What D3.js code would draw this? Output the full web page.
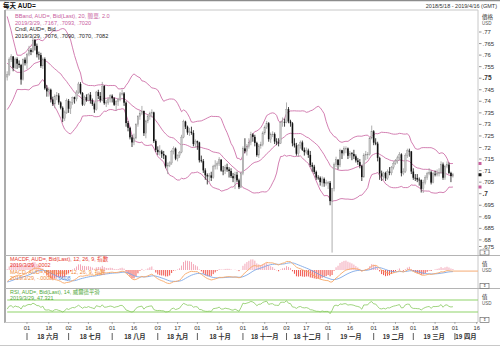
<!DOCTYPE html>
<html><head><meta charset="utf-8">
<script src="https://cdn.jsdelivr.net/npm/d3@7"></script>
<style>
body{margin:0;background:#fff}
svg{display:block;font-family:"Liberation Sans","Noto Sans CJK TC",sans-serif}
</style>
</head><body>
<svg id="c" width="500" height="347"></svg>
<script>
// ---------------- DATA ----------------
const title = "每天 AUD=";
const rangeText = "2018/5/18 - 2019/4/16 (GMT)";
const firstDay = "2018-05-18", lastAxisDay = "2019-04-16";

// closes before the first visible day (used only for the indicators' look-back)
const warmupCloses = [7730,7705,7675,7680,7680, 7668,7690,7712,7690,7674, 7700,7738,7757,7760,7753,
  7776,7772,7787,7770,7760, 7765,7755,7740,7720,7690, 7560,7500,7510,7520,7515,
  7506,7470,7455,7514,7545, 7541,7473,7515,7505];

// daily candles, 2018-05-18 .. 2019-03-29 (x 1e-4 USD)
const opens = [7505,7515,7580,7594,7545,7583,7563,7557,7494,7580,7565,7603,7622,7614,7665,7640,7603,7600,7553,7583,
7456,7443,7450,7408,7388,7422,7425,7395,7372,7326,7350,7402,7368,7396,7418,7410,7440,7475,7436,7386,
7418,7405,7428,7404,7388,7365,7440,7423,7405,7466,7392,7395,7410,7424,7413,7385,7400,7408,7432,7434,
7394,7306,7285,7244,7222,7241,7300,7334,7347,7358,7262,7315,7333,7346,7352,7228,7190,7180,7183,7172,
7165,7118,7123,7133,7183,7195,7152,7165,7180,7245,7312,7290,7265,7268,7263,7215,7227,7222,7145,7141,
7101,7080,7075,7079,7069,7118,7124,7130,7147,7100,7099,7115,7105,7098,7076,7067,7082,7058,7028,7087,
7196,7184,7203,7222,7256,7246,7220,7167,7207,7212,7263,7288,7305,7236,7255,7258,7226,7222,7218,7307,
7311,7309,7366,7313,7305,7218,7209,7173,7208,7222,7190,7180,7187,7168,7124,7117,7094,7070,7069,7050,
7064,7045,7047,7047,6968,7022,7126,7147,7124,7188,7175,7195,7196,7164,7175,7172,7162,7144,7137,7120,
7072,7167,7169,7171,7241,7270,7221,7217,7155,7088,7075,7090,7067,7096,7090,7114,7132,7142,7155,7170,
7089,7096,7166,7186,7183,7096,7069,7068,7061,7059,7021,7050,7071,7086,7093,7048,7086,7085,7088,7093,
7127,7069,7118,7126,7090,7076];
const highs = [7530,7590,7604,7596,7590,7590,7577,7562,7585,7590,7610,7640,7630,7676,7670,7650,7615,7610,7590,7590,
7470,7460,7455,7420,7430,7440,7435,7400,7378,7360,7412,7410,7400,7420,7420,7448,7484,7483,7440,7425,
7430,7435,7440,7412,7395,7445,7450,7440,7484,7470,7405,7415,7430,7430,7418,7405,7415,7440,7452,7440,
7400,7315,7290,7255,7260,7305,7340,7360,7380,7360,7320,7345,7355,7365,7355,7235,7205,7210,7190,7185,
7168,7135,7140,7190,7205,7200,7170,7185,7255,7320,7316,7295,7285,7290,7275,7235,7230,7225,7165,7150,
7110,7088,7090,7095,7125,7145,7140,7158,7150,7120,7125,7130,7115,7110,7090,7095,7095,7065,7095,7205,
7240,7215,7240,7268,7262,7255,7225,7215,7225,7270,7295,7315,7310,7265,7270,7265,7240,7240,7315,7330,
7325,7395,7375,7320,7310,7240,7220,7215,7230,7230,7200,7200,7195,7185,7135,7125,7100,7080,7075,7075,
7070,7060,7055,7055,7025,7135,7160,7150,7195,7190,7205,7205,7200,7185,7180,7190,7170,7155,7150,7125,
7175,7185,7180,7245,7295,7275,7240,7225,7160,7100,7095,7095,7105,7115,7120,7140,7150,7165,7180,7175,
7110,7175,7195,7195,7185,7110,7085,7085,7070,7062,7060,7080,7095,7110,7100,7095,7100,7105,7110,7140,
7135,7125,7140,7135,7095,7090];
const lows = [7490,7510,7570,7530,7540,7540,7545,7472,7490,7555,7540,7595,7600,7610,7620,7590,7580,7545,7540,7450,
7420,7420,7395,7380,7370,7405,7385,7365,7310,7315,7345,7350,7345,7385,7390,7400,7432,7430,7380,7380,
7398,7400,7390,7380,7350,7360,7410,7395,7400,7385,7375,7385,7395,7395,7380,7360,7380,7400,7425,7380,
7290,7270,7235,7202,7210,7235,7290,7320,7340,7250,7240,7305,7320,7330,7220,7180,7168,7165,7155,7150,
7110,7085,7115,7125,7170,7145,7140,7155,7175,7240,7280,7255,7250,7255,7205,7200,7190,7135,7135,7090,
7060,7040,7050,7055,7065,7105,7105,7120,7095,7080,7085,7095,7070,7068,7050,7020,7050,7020,7025,7080,
7175,7165,7195,7210,7225,7205,7160,7155,7195,7205,7255,7280,7225,7220,7245,7215,7210,7205,7215,7290,
7290,7305,7305,7290,7205,7200,7165,7160,7195,7185,7165,7170,7155,7115,7095,7085,7060,7060,7035,7030,
7030,7035,7020,6950,6745,7010,7115,7105,7115,7150,7165,7175,7150,7155,7145,7150,7135,7125,7110,7055,
7070,7145,7150,7165,7235,7210,7210,7140,7060,7055,7060,7055,7060,7080,7080,7105,7125,7130,7145,7075,
7080,7090,7155,7160,7085,7060,7055,7050,7035,7005,7003,7040,7060,7080,7040,7045,7075,7075,7075,7085,
7060,7060,7110,7085,7050,7070];
const closes = [7515,7580,7594,7545,7583,7563,7557,7494,7580,7565,7603,7622,7614,7665,7640,7603,7600,7553,7583,7456,
7443,7450,7408,7388,7422,7425,7395,7372,7326,7350,7402,7368,7396,7418,7410,7440,7475,7436,7386,7418,
7405,7428,7404,7388,7365,7440,7423,7405,7466,7392,7395,7410,7424,7413,7385,7400,7408,7432,7434,7394,
7306,7285,7244,7222,7241,7300,7334,7347,7358,7262,7315,7333,7346,7352,7228,7190,7180,7183,7172,7165,
7118,7123,7133,7183,7195,7152,7165,7180,7245,7312,7290,7265,7268,7263,7215,7227,7222,7145,7141,7101,
7080,7075,7079,7069,7118,7124,7130,7147,7100,7099,7115,7105,7098,7076,7067,7082,7058,7028,7087,7196,
7184,7203,7222,7256,7246,7220,7167,7207,7212,7263,7288,7305,7236,7255,7258,7226,7222,7218,7307,7311,
7309,7366,7313,7305,7218,7209,7173,7208,7222,7190,7180,7187,7168,7124,7117,7094,7070,7069,7050,7064,
7045,7047,7047,6968,7022,7126,7147,7124,7188,7175,7195,7196,7164,7175,7172,7162,7144,7137,7120,7072,
7167,7169,7171,7241,7270,7221,7217,7155,7088,7075,7090,7067,7096,7090,7114,7132,7142,7155,7170,7089,
7096,7166,7186,7183,7096,7069,7068,7061,7059,7021,7050,7071,7086,7093,7048,7086,7085,7088,7093,7127,
7069,7118,7126,7090,7076,7082];

const priceTicks = [0.77,0.765,0.76,0.755,0.75,0.745,0.74,0.735,0.73,0.725,0.72,0.715,0.71,0.705,0.7,0.695,0.69,0.685,0.68,0.675];
const priceTickLabels = [".77",".765",".76",".755",".75",".745",".74",".735",".73",".725",".72",".715",".71",".705",".7",".695",".69",".685",".68",".675"];
const boldPriceTicks = [".75",".7"];

const dayTickDates = ["2018-06-01","2018-06-18","2018-07-02","2018-07-16","2018-08-01","2018-08-16","2018-09-03","2018-09-17",
  "2018-10-01","2018-10-16","2018-11-01","2018-11-16","2018-12-03","2018-12-17","2019-01-01","2019-01-16","2019-02-01",
  "2019-02-18","2019-03-01","2019-03-18","2019-04-01","2019-04-16"];
const dayTickLabels = ["01","18","02","16","01","16","03","17","01","16","01","16","03","17","01","16","01","18","01","18","01","16"];
const monthStartDates = ["2018-06-01","2018-07-02","2018-08-01","2018-09-03","2018-10-01","2018-11-01","2018-12-03","2019-01-01","2019-02-01","2019-03-01","2019-04-01"];
const monthLabels = ["18 六月","18 七月","18 八月","18 九月","18 十月","18 十一月","18 十二月","19 一月","19 二月","19 三月","19 四月"];

const bbLegend = ["BBand, AUD=, Bid(Last), 20, 簡單, 2.0","2019/3/29, .7167, .7093, .7020"];
const cndlLegend = ["Cndl, AUD=, Bid","2019/3/29, .7076, .7090, .7070, .7082"];
const macdfLegend = ["MACDF, AUD=, Bid(Last), 12, 26, 9, 指數","2019/3/29, .0002"];
const macdLegend = ["MACD, AUD=, Bid(Last), 12, 26, 9, 指數","2019/3/29, -.0008, ","-.0008"];
const rsiLegend = ["RSI, AUD=, Bid(Last), 14, 威爾德平滑","2019/3/29, 47.321"];
const rsiBounds = [70, 30];

// ---------------- INDICATORS ----------------
const W = warmupCloses.length;
const all = warmupCloses.concat(closes).map(v => v / 1e4);
const N = closes.length;
const bb = [];
for (let i = 0; i < N; i++) {
  const win = all.slice(W + i - 19, W + i + 1);
  const m = d3.mean(win);
  const sd = Math.sqrt(d3.mean(win, v => (v - m) * (v - m)));
  bb.push({i, mid: m, up: m + 2 * sd, lo: m - 2 * sd});
}
function ema(arr, n) { const k = 2 / (n + 1); const out = [arr[0]]; for (let i = 1; i < arr.length; i++) out.push(arr[i] * k + out[i - 1] * (1 - k)); return out; }
const e12 = ema(all, 12), e26 = ema(all, 26);
const macdAll = all.map((v, i) => e12[i] - e26[i]);
const sigAll = ema(macdAll, 9);
const macd = d3.range(N).map(i => ({i, m: macdAll[W + i], s: sigAll[W + i], h: macdAll[W + i] - sigAll[W + i]}));
// RSI Wilder 14
const rsiAll = new Array(all.length).fill(null);
{
  let g = 0, l = 0;
  for (let i = 1; i <= 14; i++) { const d = all[i] - all[i - 1]; if (d > 0) g += d; else l -= d; }
  g /= 14; l /= 14; rsiAll[14] = 100 - 100 / (1 + g / l);
  for (let i = 15; i < all.length; i++) {
    const d = all[i] - all[i - 1];
    g = (g * 13 + Math.max(d, 0)) / 14; l = (l * 13 + Math.max(-d, 0)) / 14;
    rsiAll[i] = 100 - 100 / (1 + g / l);
  }
}
const rsi = d3.range(N).map(i => ({i, r: rsiAll[W + i]}));

// ---------------- LAYOUT ----------------
const svg = d3.select("#c");
const fL = 5, fR = 478, fT = 10;
const mainBottom = 255, macdTop = 256, macdBottom = 288, rsiTop = 289, rsiBottom = 322;

const parse = d3.timeParse("%Y-%m-%d");
const days = d3.timeDay.range(parse(firstDay), d3.timeDay.offset(parse(lastAxisDay), 1)).filter(d => d.getDay() % 6 !== 0);
const fmt = d3.timeFormat("%Y-%m-%d");
const dayIndex = new Map(days.map((d, i) => [fmt(d), i]));
const x = d3.scaleLinear().domain([0, days.length - 1]).range([7.2, 476.7]);
const y = d3.scaleLinear().domain([0.77, 0.675]).range([32, 251.45]);
const yM = d3.scaleLinear().domain([-0.0075, 0.0075]).range([286.5, 253.5]);
const yH = d3.scaleLinear().domain([-0.004, 0.004]).range([288, 252]);
const yR = d3.scaleLinear().domain([0, 100]).range([321, 291]);

// frame
svg.append("rect").attr("x", 0).attr("y", 0).attr("width", 500).attr("height", 347).attr("fill", "#fff");
svg.append("line").attr("x1", 0).attr("x2", 500).attr("y1", 0.5).attr("y2", 0.5).attr("stroke", "#8c8c8c").attr("stroke-width", 1.5);
svg.append("text").attr("x", 3).attr("y", 7.5).attr("font-size", 6.5).attr("font-weight", "bold").attr("fill", "#111").text(title);
svg.append("text").attr("x", 497).attr("y", 7.5).attr("font-size", 5.5).attr("text-anchor", "end").attr("fill", "#333").text(rangeText);
svg.append("path").attr("d", `M${fL},${rsiBottom}V${fT}H${fR}V${rsiBottom}`).attr("fill", "none").attr("stroke", "#c8c8c8");
svg.append("line").attr("x1", fL).attr("x2", fL).attr("y1", fT).attr("y2", rsiBottom + 1).attr("stroke", "#9a9a9a").attr("stroke-width", 1.5);
[mainBottom + 0.5, macdBottom + 0.5].forEach(v => svg.append("line").attr("x1", fL).attr("x2", 500).attr("y1", v).attr("y2", v).attr("stroke", "#b4b4b4"));
svg.append("line").attr("x1", 0).attr("x2", 500).attr("y1", 345.5).attr("y2", 345.5).attr("stroke", "#c8c8c8");
svg.append("line").attr("x1", fL).attr("x2", fR).attr("y1", rsiBottom + 0.5).attr("y2", rsiBottom + 0.5).attr("stroke", "#c8c8c8");

// price axis
const pa = svg.append("g").attr("font-size", 6).attr("fill", "#333");
priceTicks.forEach((v, k) => {
  const ty = Math.min(y(v), 246.5);
  pa.append("line").attr("x1", 479).attr("x2", 481.5).attr("y1", ty).attr("y2", ty).attr("stroke", "#666").attr("stroke-width", 0.7);
  pa.append("text").attr("x", 482.5).attr("y", ty + 2).attr("font-weight", boldPriceTicks.includes(priceTickLabels[k]) ? "bold" : "normal")
    .attr("font-size", boldPriceTicks.includes(priceTickLabels[k]) ? 6.5 : 6).text(priceTickLabels[k]);
});
svg.append("text").attr("x", 482).attr("y", 19).attr("font-size", 5.5).attr("fill", "#333").text("價格");
svg.append("text").attr("x", 482).attr("y", 25).attr("font-size", 4.5).attr("fill", "#555").text("USD");
[[266, 272], [299, 305]].forEach(([a, b]) => {
  svg.append("text").attr("x", 482).attr("y", a).attr("font-size", 5.5).attr("fill", "#333").text("值");
  svg.append("text").attr("x", 482).attr("y", b).attr("font-size", 4.5).attr("fill", "#555").text("USD");
});
[252.5, 286, 320].forEach(v => {
  svg.append("rect").attr("x", 480).attr("y", v - 2.5).attr("width", 9).attr("height", 5).attr("fill", "#fff").attr("stroke", "#555").attr("stroke-width", 0.6);
  svg.append("text").attr("x", 484.5).attr("y", v + 1.4).attr("text-anchor", "middle").attr("font-size", 3.6).attr("fill", "#333").text("⇕");
});

// Bollinger bands
const bbColor = "#c8609e";
["up", "mid", "lo"].forEach(k => {
  svg.append("path").datum(bb).attr("fill", "none").attr("stroke", bbColor).attr("stroke-width", 0.8)
    .attr("d", d3.line().x(d => x(d.i)).y(d => y(d[k])));
});

// candles
const cd = d3.range(N).map(i => ({i, o: opens[i] / 1e4, h: highs[i] / 1e4, l: lows[i] / 1e4, c: closes[i] / 1e4}));
const cg = svg.append("g");
cg.selectAll("line").data(cd).join("line")
  .attr("x1", d => x(d.i)).attr("x2", d => x(d.i)).attr("y1", d => y(d.h)).attr("y2", d => y(d.l))
  .attr("stroke", d => d.c >= d.o ? "#9a9a9a" : "#111").attr("stroke-width", 0.8);
cg.selectAll("rect").data(cd).join("rect")
  .attr("x", d => x(d.i) - 0.8).attr("width", 1.6)
  .attr("y", d => y(Math.max(d.o, d.c))).attr("height", d => Math.max(0.8, Math.abs(y(d.o) - y(d.c))))
  .attr("fill", d => d.c >= d.o ? "#c4c4c4" : "#111").attr("stroke", d => d.c >= d.o ? "#8a8a8a" : "none").attr("stroke-width", 0.3);

// last value markers
const last = bb[N - 1];
[[last.up, bbColor], [last.lo, bbColor], [cd[N - 1].c, "#111"]].forEach(([v, c]) => {
  svg.append("rect").attr("x", 478.5).attr("y", y(v) - 1.5).attr("width", 3).attr("height", 3).attr("fill", c);
});

// legends (main)
const lg = svg.append("g").attr("font-size", 5.6);
lg.append("text").attr("x", 15).attr("y", 18).attr("fill", bbColor).text(bbLegend[0]);
lg.append("text").attr("x", 15).attr("y", 24.5).attr("fill", bbColor).text(bbLegend[1]);
lg.append("text").attr("x", 15).attr("y", 31).attr("fill", "#222").text(cndlLegend[0]);
lg.append("text").attr("x", 15).attr("y", 37.5).attr("fill", "#222").text(cndlLegend[1]);

// MACD panel
const hg = svg.append("g");
hg.selectAll("rect").data(macd).join("rect")
  .attr("x", d => x(d.i) - 0.5).attr("width", 1)
  .attr("y", d => Math.min(yH(0), yH(d.h))).attr("height", d => Math.abs(yH(d.h) - yH(0)))
  .attr("fill", d => d.h >= 0 ? "#f3a7b8" : "#f0524a");
svg.append("line").attr("x1", x(N - 1)).attr("x2", 478).attr("y1", yM(macd[N - 1].m)).attr("y2", yM(macd[N - 1].m)).attr("stroke", "#f7b98a").attr("stroke-width", 1.2);
svg.append("path").datum(macd).attr("fill", "none").attr("stroke", "#7ea8e6").attr("stroke-width", 0.9)
  .attr("d", d3.line().x(d => x(d.i)).y(d => yM(d.s)));
svg.append("path").datum(macd).attr("fill", "none").attr("stroke", "#f7a868").attr("stroke-width", 0.9)
  .attr("d", d3.line().x(d => x(d.i)).y(d => yM(d.m)));
const ml = svg.append("g").attr("font-size", 5.4);
ml.append("text").attr("x", 10).attr("y", 261).attr("fill", "#e8372d").text(macdfLegend[0]);
ml.append("text").attr("x", 10).attr("y", 267).attr("fill", "#e8372d").text(macdfLegend[1]);
ml.append("text").attr("x", 10).attr("y", 273.5).attr("fill", "#f08a3a").text(macdLegend[0]);
const t2 = ml.append("text").attr("x", 10).attr("y", 279.5);
t2.append("tspan").attr("fill", "#f08a3a").text(macdLegend[1]);
t2.append("tspan").attr("fill", "#5b8fe0").text(macdLegend[2]);

// RSI panel
rsiBounds.forEach(v => svg.append("line").attr("x1", x(0)).attr("x2", fR).attr("y1", yR(v)).attr("y2", yR(v)).attr("stroke", "#8fd36a").attr("stroke-width", 1.2));
svg.append("path").datum(rsi).attr("fill", "none").attr("stroke", "#86c95e").attr("stroke-width", 0.8)
  .attr("d", d3.line().x(d => x(d.i)).y(d => yR(d.r)));
const rl = svg.append("g").attr("font-size", 5.4).attr("fill", "#4fa83a");
rl.append("text").attr("x", 10).attr("y", 293.5).text(rsiLegend[0]);
rl.append("text").attr("x", 10).attr("y", 299.5).text(rsiLegend[1]);

// x axis
const xa = svg.append("g").attr("font-size", 5.8).attr("fill", "#333").attr("text-anchor", "middle");
dayTickDates.forEach((d, k) => {
  const xi = x(dayIndex.get(d));
  xa.append("line").attr("x1", xi).attr("x2", xi).attr("y1", rsiBottom).attr("y2", rsiBottom + 2).attr("stroke", "#777").attr("stroke-width", 0.6);
  xa.append("text").attr("x", xi).attr("y", 330).text(dayTickLabels[k]);
});
const mx = monthStartDates.map(d => x(dayIndex.get(d)));
mx.forEach(v => xa.append("line").attr("x1", v).attr("x2", v).attr("y1", 333).attr("y2", 340).attr("stroke", "#333").attr("stroke-width", 0.8));
monthLabels.forEach((m, k) => {
  const a = mx[k], b = k < mx.length - 1 ? mx[k + 1] : a + 22;
  xa.append("text").attr("x", (a + b) / 2).attr("y", 339).attr("font-weight", "bold").attr("font-size", 6.3).text(m);
});
</script>
</body></html>
